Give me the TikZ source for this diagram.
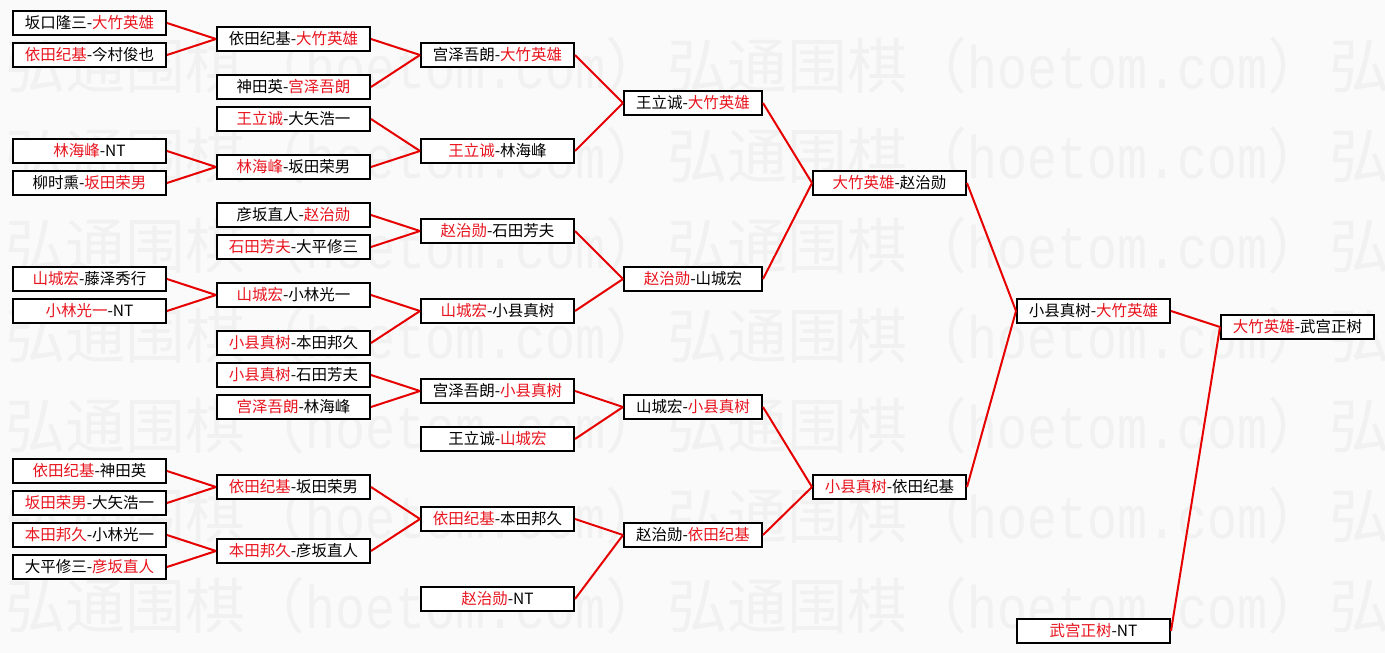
\documentclass[tikz,border=0pt]{standalone}
\usepackage{fontspec}
\newfontfamily\cjk{Noto Sans CJK SC}
\newfontfamily\wmmono[FakeStretch=0.8333]{Liberation Mono}
\definecolor{win}{RGB}{232,20,30}
\definecolor{lnk}{RGB}{230,0,0}
\definecolor{bgc}{RGB}{250,250,250}
\definecolor{wmc}{RGB}{241,241,241}
\newcommand{\W}[1]{\textcolor{win}{#1}}
\begin{document}
\begin{tikzpicture}[x=1pt,y=-1pt,
  box/.style={draw=black,line width=2pt,fill=white,minimum width=153pt,minimum height=24pt,inner sep=0pt,font=\cjk\fontsize{15.5}{17}\selectfont},
  boxs/.style={box,minimum width=138pt},
  link/.style={draw=lnk,line width=2pt},
  wm/.style={text=wmc,anchor=west,inner sep=0pt,font=\cjk\fontsize{60}{60}\selectfont}]
\useasboundingbox (0,0) rectangle (1385,653);
\fill[bgc] (0,0) rectangle (1385,653);
\begin{scope}
\clip (0,0) rectangle (1385,653);
\foreach \ri in {0,...,6}{
  \foreach \ci in {0,1,2}{
    \node[wm] (wm-\ri-\ci) at ({5+662*\ci},{66+90*\ri}) {弘通围棋（{\wmmono hoetom.com}）};
  }
}
\end{scope}
% column 1
\node[box] (a1) at (89.5,23) {坂口隆三-\W{大竹英雄}};
\node[box] (a2) at (89.5,55) {\W{依田纪基}-今村俊也};
\node[box] (a3) at (89.5,151) {\W{林海峰}-NT};
\node[box] (a4) at (89.5,183) {柳时熏-\W{坂田荣男}};
\node[box] (a5) at (89.5,279) {\W{山城宏}-藤泽秀行};
\node[box] (a6) at (89.5,311) {\W{小林光一}-NT};
\node[box] (a7) at (89.5,471) {\W{依田纪基}-神田英};
\node[box] (a8) at (89.5,503) {\W{坂田荣男}-大矢浩一};
\node[box] (a9) at (89.5,535) {\W{本田邦久}-小林光一};
\node[box] (a10) at (89.5,567) {大平修三-\W{彦坂直人}};
% column 2
\node[box] (b1) at (293.5,39) {依田纪基-\W{大竹英雄}};
\node[box] (b2) at (293.5,87) {神田英-\W{宫泽吾朗}};
\node[box] (b3) at (293.5,119) {\W{王立诚}-大矢浩一};
\node[box] (b4) at (293.5,167) {\W{林海峰}-坂田荣男};
\node[box] (b5) at (293.5,215) {彦坂直人-\W{赵治勋}};
\node[box] (b6) at (293.5,247) {\W{石田芳夫}-大平修三};
\node[box] (b7) at (293.5,295) {\W{山城宏}-小林光一};
\node[box] (b8) at (293.5,343) {\W{小县真树}-本田邦久};
\node[box] (b9) at (293.5,375) {\W{小县真树}-石田芳夫};
\node[box] (b10) at (293.5,407) {\W{宫泽吾朗}-林海峰};
\node[box] (b11) at (293.5,487) {\W{依田纪基}-坂田荣男};
\node[box] (b12) at (293.5,551) {\W{本田邦久}-彦坂直人};
% column 3
\node[box] (c1) at (497.5,55) {宫泽吾朗-\W{大竹英雄}};
\node[box] (c2) at (497.5,151) {\W{王立诚}-林海峰};
\node[box] (c3) at (497.5,231) {\W{赵治勋}-石田芳夫};
\node[box] (c4) at (497.5,311) {\W{山城宏}-小县真树};
\node[box] (c5) at (497.5,391) {宫泽吾朗-\W{小县真树}};
\node[box] (c6) at (497.5,439) {王立诚-\W{山城宏}};
\node[box] (c7) at (497.5,519) {\W{依田纪基}-本田邦久};
\node[box] (c8) at (497.5,599) {\W{赵治勋}-NT};
% column 4
\node[boxs] (d1) at (693,103) {王立诚-\W{大竹英雄}};
\node[boxs] (d2) at (693,279) {\W{赵治勋}-山城宏};
\node[boxs] (d3) at (693,407) {山城宏-\W{小县真树}};
\node[boxs] (d4) at (693,535) {赵治勋-\W{依田纪基}};
% column 5
\node[box] (e1) at (889.5,183) {\W{大竹英雄}-赵治勋};
\node[box] (e2) at (889.5,487) {\W{小县真树}-依田纪基};
% column 6
\node[box] (f1) at (1093.5,311) {小县真树-\W{大竹英雄}};
\node[box] (f2) at (1093.5,631) {\W{武宫正树}-NT};
% column 7
\node[box] (g1) at (1297.5,327) {\W{大竹英雄}-武宫正树};
% connectors
\draw[link] (a1.east) -- (b1.west);
\draw[link] (a2.east) -- (b1.west);
\draw[link] (a3.east) -- (b4.west);
\draw[link] (a4.east) -- (b4.west);
\draw[link] (a5.east) -- (b7.west);
\draw[link] (a6.east) -- (b7.west);
\draw[link] (a7.east) -- (b11.west);
\draw[link] (a8.east) -- (b11.west);
\draw[link] (a9.east) -- (b12.west);
\draw[link] (a10.east) -- (b12.west);
\draw[link] (b1.east) -- (c1.west);
\draw[link] (b2.east) -- (c1.west);
\draw[link] (b3.east) -- (c2.west);
\draw[link] (b4.east) -- (c2.west);
\draw[link] (b5.east) -- (c3.west);
\draw[link] (b6.east) -- (c3.west);
\draw[link] (b7.east) -- (c4.west);
\draw[link] (b8.east) -- (c4.west);
\draw[link] (b9.east) -- (c5.west);
\draw[link] (b10.east) -- (c5.west);
\draw[link] (b11.east) -- (c7.west);
\draw[link] (b12.east) -- (c7.west);
\draw[link] (c1.east) -- (d1.west);
\draw[link] (c2.east) -- (d1.west);
\draw[link] (c3.east) -- (d2.west);
\draw[link] (c4.east) -- (d2.west);
\draw[link] (c5.east) -- (d3.west);
\draw[link] (c6.east) -- (d3.west);
\draw[link] (c7.east) -- (d4.west);
\draw[link] (c8.east) -- (d4.west);
\draw[link] (d1.east) -- (e1.west);
\draw[link] (d2.east) -- (e1.west);
\draw[link] (d3.east) -- (e2.west);
\draw[link] (d4.east) -- (e2.west);
\draw[link] (e1.east) -- (f1.west);
\draw[link] (e2.east) -- (f1.west);
\draw[link] (f1.east) -- (g1.west);
\draw[link] (f2.east) -- (g1.west);
\end{tikzpicture}
\end{document}
